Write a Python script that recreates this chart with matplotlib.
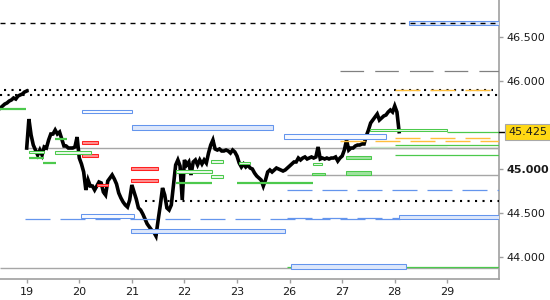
import numpy as np
import matplotlib
matplotlib.use("Agg")
import matplotlib.pyplot as plt
from matplotlib.patches import Rectangle
from matplotlib.transforms import blended_transform_factory

plt.rcParams['lines.scale_dashes'] = False
plt.rcParams['font.family'] = ['DejaVu Sans']

# ---------------- data ----------------
day_labels = ['19', '20', '21', '22', '23', '26', '27', '28', '29']

# previous session tail (hourly closes)
prev_start = -0.5
prev_prices = [45.695, 45.718, 45.740, 45.752, 45.774, 45.786, 45.809, 45.797,
               45.831, 45.843, 45.854, 45.877, 45.888]

# main hourly closes from day 19 onwards
main_prices = [
    45.239, 45.569, 45.387, 45.273, 45.216, 45.159, 45.216, 45.159, 45.251, 45.239,
    45.330, 45.399, 45.399, 45.444, 45.399, 45.421, 45.342, 45.262, 45.262, 45.239,
    45.239, 45.239, 45.251, 45.364, 45.125, 45.057, 44.966, 44.761, 44.875, 44.806,
    44.806, 44.761, 44.806, 44.852, 44.841, 44.738, 44.704, 44.863, 44.897, 44.932,
    44.886, 44.829, 44.727, 44.670, 44.624, 44.590, 44.567, 44.647, 44.818, 44.738,
    44.658, 44.556, 44.533, 44.487, 44.430, 44.374, 44.339, 44.305, 44.282, 44.237,
    44.419, 44.590, 44.784, 44.704, 44.556, 44.533, 44.590, 44.818, 45.046, 45.103,
    45.034, 44.647, 45.103, 45.046, 45.080, 44.932, 45.080, 45.103, 45.046, 45.103,
    45.057, 45.103, 45.068, 45.182, 45.273, 45.330, 45.228, 45.216, 45.228, 45.205,
    45.205, 45.216, 45.205, 45.182, 45.216, 45.194, 45.148, 45.068, 45.023, 45.057,
    45.023, 45.046, 45.011, 45.000, 44.954, 44.920, 44.897, 44.875, 44.806, 44.875,
    44.966, 44.989, 44.966, 44.989, 45.011, 45.000, 44.989, 44.977, 44.989, 45.011,
    45.034, 45.057, 45.080, 45.080, 45.125, 45.103, 45.125, 45.137, 45.114, 45.125,
    45.137, 45.125, 45.137, 45.251, 45.114, 45.125, 45.114, 45.125, 45.114, 45.125,
    45.125, 45.137, 45.091, 45.125, 45.148, 45.216, 45.330, 45.216, 45.239, 45.239,
    45.262, 45.273, 45.273, 45.285, 45.285, 45.376, 45.444, 45.524, 45.558, 45.592,
    45.626, 45.558, 45.581, 45.604, 45.615, 45.649, 45.672, 45.649, 45.718, 45.649,
    45.425]
last_price = 45.425

# level boxes: (start, end, low, high)
blue_boxes_light = [(7.272, 8.983, 46.637, 46.682), (1.997, 4.679, 45.441, 45.498),
                    (7.087, 8.983, 44.430, 44.473), (1.990, 4.907, 44.268, 44.317),
                    (5.027, 7.209, 43.861, 43.918)]
blue_boxes_white = [(1.058, 1.997, 45.634, 45.669), (4.900, 6.828, 45.347, 45.399),
                    (1.039, 2.047, 44.438, 44.487)]
red_boxes = [(1.058, 1.350, 45.281, 45.316), (1.058, 1.350, 45.142, 45.171),
             (1.343, 1.541, 44.803, 44.829), (1.990, 2.488, 44.985, 45.019),
             (1.990, 2.488, 44.855, 44.886)]
green_boxes = [(0.044, 0.335, 45.182, 45.208), (0.538, 1.217, 45.174, 45.205),
               (2.840, 3.519, 44.951, 44.989), (3.505, 3.728, 45.065, 45.103),
               (3.505, 3.728, 44.892, 44.932), (4.038, 4.247, 45.054, 45.085),
               (5.450, 5.611, 45.049, 45.072), (6.530, 7.989, 45.433, 45.456)]
green_boxes_filled = [(5.432, 5.674, 44.932, 44.960), (6.073, 6.543, 45.110, 45.148),
                      (6.073, 6.543, 44.932, 44.977)]

# level lines: (start, end, value)
green_thick = [(-0.508, -0.013, 45.680), (0.538, 0.761, 45.345), (0.044, 0.335, 45.120),
               (0.316, 0.552, 45.065), (2.840, 3.519, 44.835), (3.994, 5.440, 44.837)]
green_thin = [(7.989, 8.983, 45.427), (7.005, 8.983, 45.270), (7.005, 8.983, 45.156),
              (4.945, 8.983, 43.887)]
gray_solid = [(-0.032, 8.983, 45.236), (5.959, 8.983, 45.234), (4.945, 8.983, 44.932),
              (-0.508, 8.983, 43.869)]
pale_lines = [(6.530, 7.989, 45.251)]
gray_longdash = [(5.959, 8.983, 46.113)]
orange_dash = [(7.005, 8.812, 45.900), (7.005, 8.812, 45.350), (5.959, 8.983, 45.316)]
blue_dash = [(4.945, 8.983, 44.761), (-0.032, 7.272, 44.427), (4.945, 7.087, 44.440)]
black_dash = [(-0.508, 8.983, 46.659)]
black_dot = [(-0.432, 8.869, 45.900), (-0.508, 8.983, 45.843), (2.250, 8.983, 44.639)]

y_ticks = [44.0, 44.5, 45.0, 46.0, 46.5]

# ---------------- drawing ----------------
fig = plt.figure(figsize=(5.5, 3.0), dpi=100)
ax = fig.add_axes([0, 21 / 300, 499 / 550, 279 / 300])
ax.set_xlim(-0.508, 8.983)
ax.set_ylim(43.747, 46.925)

t_prev = prev_start + np.arange(len(prev_prices)) / 24.0
t_main = np.arange(len(main_prices)) / 24.0
ax.plot(t_prev, prev_prices, color='black', lw=2.6, zorder=4, solid_joinstyle='miter')
ax.plot(t_main, main_prices, color='black', lw=2.6, zorder=4, solid_joinstyle='miter')

BLUE = '#6495ED'
GREEN = '#4cc94c'
RED = '#ff2020'
ORANGE = '#ffbf3c'
GRAY = '#a6a6a6'

def boxes(lst, ec, fc, lw=0.75, z=5):
    for t0, t1, lo, hi in lst:
        ax.add_patch(Rectangle((t0, lo), t1 - t0, hi - lo, ec=ec, fc=fc, lw=lw, zorder=z))

def hlines(lst, **kw):
    for t0, t1, v in lst:
        ax.plot([t0, t1], [v, v], solid_capstyle='butt', dash_capstyle='butt', **kw)

hlines(gray_solid, color=GRAY, lw=1.0, zorder=3)
hlines(pale_lines, color='#c8e6c8', lw=1.0, zorder=3)
hlines(gray_longdash, color='#808080', lw=0.9, ls=(0, (17, 8)), zorder=3)
hlines(black_dash, color='black', lw=1.0, ls=(0, (3.6, 3.6)), zorder=6)
hlines(black_dot, color='black', lw=1.5, ls=(0, (1.5, 3.9)), zorder=6)
hlines(orange_dash, color=ORANGE, lw=1.0, ls=(0, (18, 7.2)), zorder=6)
hlines(blue_dash, color=BLUE, lw=0.9, ls=(0, (18, 7.2)), zorder=5)
hlines(green_thin, color=GREEN, lw=0.9, zorder=5)
hlines(green_thick, color=GREEN, lw=1.6, zorder=5)

boxes(blue_boxes_light, BLUE, '#dde7fb')
boxes(blue_boxes_white, BLUE, '#f7f9ff')
boxes(red_boxes, RED, '#ff8f8f')
boxes(green_boxes, GREEN, '#eaf8ea')
boxes(green_boxes_filled, GREEN, '#9fe29f')

# axes styling
for s in ['left', 'top']:
    ax.spines[s].set_visible(False)
for s in ['right', 'bottom']:
    ax.spines[s].set_color('#a0a0a0')
    ax.spines[s].set_linewidth(1.2)

ax.set_xticks(range(len(day_labels)))
ax.set_xticklabels(day_labels)
ax.yaxis.tick_right()
ax.set_yticks(y_ticks)
ax.set_yticklabels([f'{v:.3f}' for v in y_ticks])
ax.tick_params(axis='both', colors='#a0a0a0', labelcolor='#1a1a1a', labelsize=8,
               length=3, width=1, pad=2.5)
for lab in ax.get_yticklabels():
    if lab.get_text() == '45.000':
        lab.set_fontweight('bold')

trans = blended_transform_factory(ax.transAxes, ax.transData)
ax.plot([1.0, 1.013], [last_price, last_price], color='black', lw=1, transform=trans,
        clip_on=False, zorder=10)
ax.text(1.019, last_price, f'{last_price:.3f}', transform=trans, va='center', ha='left',
        fontsize=8, color='#1a1a1a', zorder=11,
        bbox=dict(boxstyle='square,pad=0.28', fc='#ffd814', ec='#a8a8a8', lw=0.8))

fig.savefig('out.png', dpi=100)
